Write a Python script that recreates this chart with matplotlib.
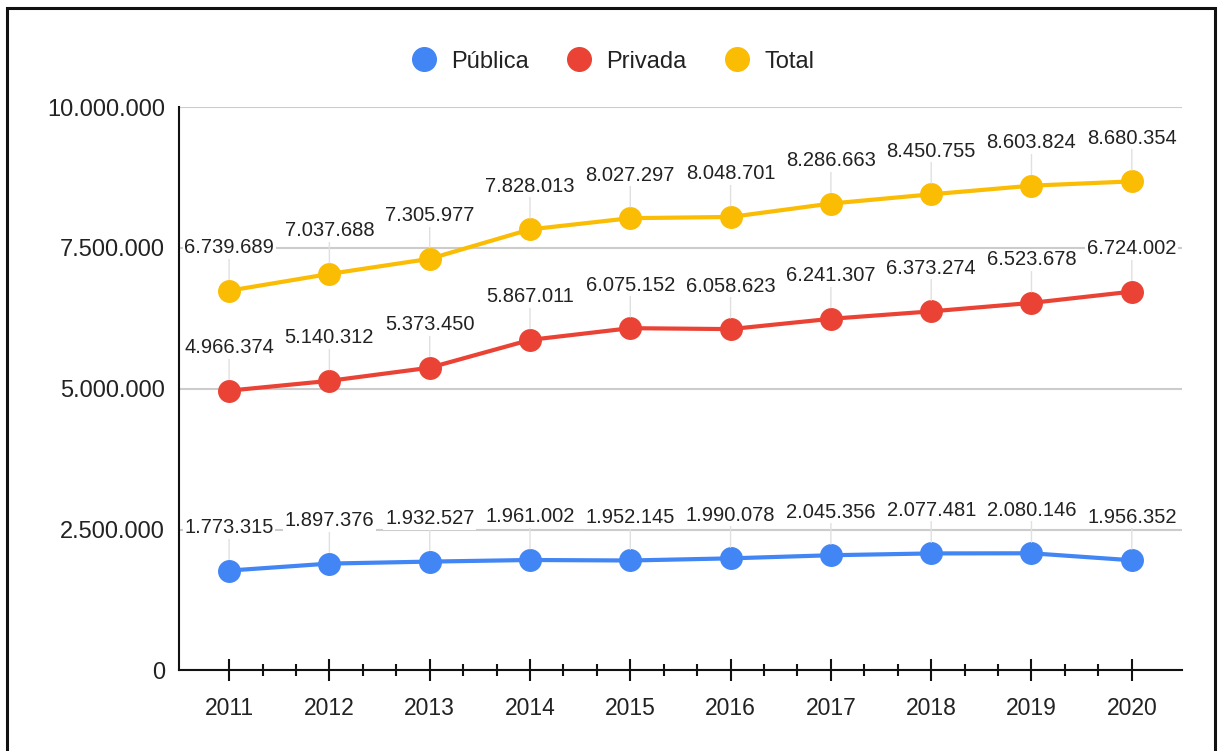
import matplotlib
matplotlib.use("Agg")
import matplotlib.pyplot as plt
from matplotlib.lines import Line2D
from matplotlib.patches import Rectangle
from matplotlib.ticker import FuncFormatter, MultipleLocator, FixedLocator

plt.rcParams["font.family"] = ["Liberation Sans", "DejaVu Sans"]

# Series data
years = [2011, 2012, 2013, 2014, 2015, 2016, 2017, 2018, 2019, 2020]
publica = [1773315, 1897376, 1932527, 1961002, 1952145, 1990078, 2045356, 2077481, 2080146, 1956352]
privada = [4966374, 5140312, 5373450, 5867011, 6075152, 6058623, 6241307, 6373274, 6523678, 6724002]
total = [6739689, 7037688, 7305977, 7828013, 8027297, 8048701, 8286663, 8450755, 8603824, 8680354]

series_names = ["Pública", "Privada", "Total"]
colors = ["#4285F4", "#EA4335", "#FBBC04"]


def fmt_thousands(v, pos=None):
    return f"{int(round(v)):,}".replace(",", ".")


fig = plt.figure(figsize=(12.19, 7.51), dpi=100)
ax = fig.add_axes([0.1468, 0.1072, 0.8228, 0.7503])

for vals, color, name in zip([publica, privada, total], colors, series_names):
    ax.plot(years, vals, color=color, lw=3, marker="o", markersize=15.5,
            zorder=3, label=name, clip_on=False)
    for x, v in zip(years, vals):
        ax.annotate(fmt_thousands(v), xy=(x, v), xytext=(0, 31),
                    textcoords="offset points", ha="center", va="center",
                    fontsize=14.5, color="#222222", zorder=4,
                    bbox=dict(boxstyle="square,pad=0.08", fc="white", ec="none"),
                    arrowprops=dict(arrowstyle="-", color="#e0e0e0", lw=1,
                                    shrinkA=0, shrinkB=8))

ax.set_xlim(2010.5, 2020.5)
ax.set_ylim(0, 10_000_000)

ax.xaxis.set_major_locator(FixedLocator(years))
minor = [y + k / 3 for y in years[:-1] for k in (1, 2)]
ax.xaxis.set_minor_locator(FixedLocator(minor))
ax.tick_params(axis="x", which="major", direction="inout", length=16.5, width=1.5,
               color="#111111", labelsize=16.5, labelcolor="#222222", pad=10.5)
ax.tick_params(axis="x", which="minor", direction="inout", length=8.5, width=1.5,
               color="#111111")

ax.yaxis.set_major_locator(MultipleLocator(2_500_000))
ax.yaxis.set_major_formatter(FuncFormatter(fmt_thousands))
ax.tick_params(axis="y", length=0, labelsize=17, labelcolor="#222222", pad=10)
ax.yaxis.grid(True, color="#cccccc", lw=1.5, zorder=0)
ax.set_axisbelow(True)

for side in ("top", "right"):
    ax.spines[side].set_visible(False)
for side in ("left", "bottom"):
    ax.spines[side].set_color("#111111")
    ax.spines[side].set_linewidth(1.5)
    ax.spines[side].set_zorder(2.5)

handles = [Line2D([], [], lw=0, marker="o", markersize=17, color=c) for c in colors]
fig.legend(handles, series_names, loc="center", bbox_to_anchor=(0.503, 0.918),
           ncol=3, frameon=False, fontsize=17, handlelength=1.0,
           handletextpad=0.65, columnspacing=1.65, labelcolor="#222222")

# outer frame around the whole chart
fig.add_artist(Rectangle((7 / 1219, -0.05), 1208 / 1219, 1.05 - 8 / 751,
                         transform=fig.transFigure, fill=False,
                         ec="#111111", lw=2.2))

fig.savefig("out.png", dpi=100)
